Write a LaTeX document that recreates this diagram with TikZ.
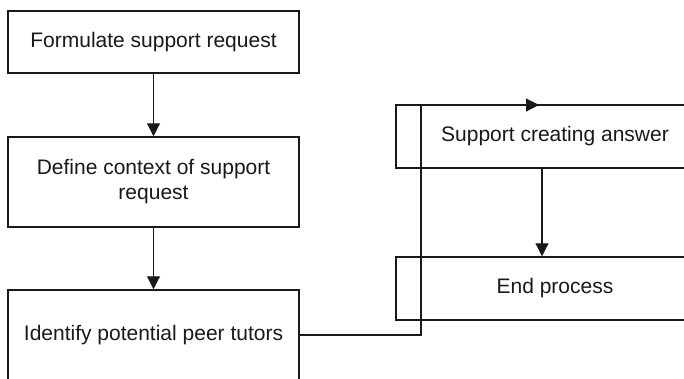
\documentclass[tikz,border=0pt]{standalone}
\usepackage{fontspec}
\setmainfont{Liberation Sans}
\usetikzlibrary{arrows.meta,calc}
\begin{document}
\begin{tikzpicture}[x=1pt,y=-1pt,
  box/.style={draw=black!90, line width=1.5pt, rectangle, inner sep=0pt, align=center,
    font=\fontsize{21}{25}\selectfont, text=black!90},
  conn/.style={draw=black!90, line width=1.1pt},
  arr/.style={conn, -{Triangle[length=13pt,width=13pt]}}]
\useasboundingbox (0,0) rectangle (684,378);
\clip (0,0) rectangle (684,378);
\node[box, minimum width=291pt, minimum height=62pt] (b1) at (153.5,42) {Formulate support request};
\node[box, minimum width=291pt, minimum height=90pt] (b2) at (153.5,182) {Define context of support\\request};
\node[box, minimum width=291pt, minimum height=90pt] (b3) at (153.5,335) {Identify potential peer tutors};
\node[box, minimum width=318pt, minimum height=63pt] (b4) at (555,136.5) {Support creating answer};
\node[box, minimum width=318pt, minimum height=63pt] (b5) at (555,288.5) {End process};
\coordinate (ax) at (542,0);
\coordinate (turn) at (421,105);
\coordinate (tip) at (539,105);
\draw[arr] (b1.south) -- (b2.north);
\draw[arr] (b2.south) -- (b3.north);
\draw[arr] (b4.south -| ax) -- (b5.north -| ax);
\draw[conn] (b3.east) -| (turn);
\draw[arr] (turn) -- (tip);
\end{tikzpicture}
\end{document}
